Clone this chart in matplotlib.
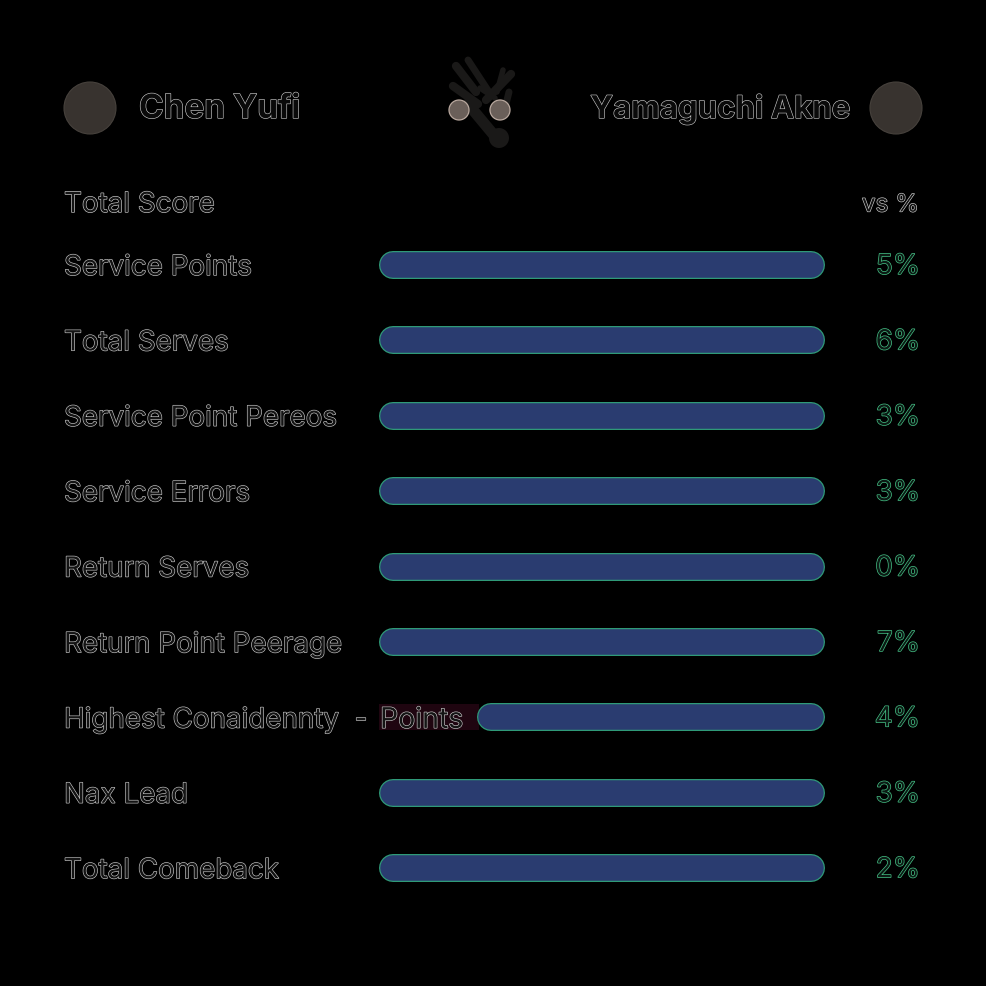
import matplotlib.pyplot as plt
import matplotlib.patheffects as pe
from matplotlib.patches import Circle, Rectangle

# ----------------------------
# Data
# ----------------------------
player_left = "Chen Yufi"
player_right = "Yamaguchi Akne"
header_left = "Total Score"
header_right = "vs %"

labels = ["Service Points", "Total Serves", "Service Point Pereos",
          "Service Errors", "Return Serves", "Return Point Peerage",
          "Highest Conaidennty  -", "Nax Lead", "Total Comeback"]
bar_start = [0, 0, 0, 0, 0, 0, 22, 0, 0]
bar_end = [100, 100, 100, 100, 100, 100, 100, 100, 100]
percents = ["5%", "6%", "3%", "3%", "0%", "7%", "4%", "3%", "2%"]

W = 986.0
plt.rcParams['font.family'] = ['Inter', 'DejaVu Sans']


def hollow(color, width=0.9):
    return [pe.Stroke(linewidth=width, foreground=color), pe.Normal()]


fig = plt.figure(figsize=(9.86, 9.86), dpi=100, facecolor='black')

# ----------------------------
# Overlay in pixel coordinates
# ----------------------------
over = fig.add_axes([0, 0, 1, 1])
over.set_xlim(0, W)
over.set_ylim(W, 0)
over.axis('off')

for cx in [90, 896]:
    over.add_patch(Circle((cx, 108), 26, fc='#38332f', ec='#46413c', lw=0.8))

over.text(139, 109, player_left, fontsize=24, fontweight='bold', color='#0a0a0a',
          va='center', ha='left', path_effects=hollow('#c4c4c4'))
over.text(851, 109, player_right, fontsize=22.5, fontweight='bold', color='#0a0a0a',
          va='center', ha='right', path_effects=hollow('#c4c4c4'))
over.text(64, 205, header_left, fontsize=20, color='#141414', va='center',
          path_effects=hollow('#d0d0d0'))
over.text(919, 205, header_right, fontsize=17.5, color='#141414', va='center',
          ha='right', path_effects=hollow('#d0d0d0'))

# logo
logo = '#1a1918'
for xs, ys, lw in [([498, 468], [140, 104], 8),
                   ([476, 456], [92, 66], 6),
                   ([489, 468], [92, 60], 5),
                   ([486, 511], [100, 74], 6),
                   ([453, 478], [86, 104], 6),
                   ([497, 503], [92, 70], 4),
                   ([509, 503], [92, 116], 5),
                   ([480, 495], [88, 98], 4)]:
    over.plot(xs, ys, color=logo, lw=lw, solid_capstyle='round', zorder=1)
over.add_patch(Circle((499, 138), 10, fc=logo, ec='none', zorder=1))
for cx in [459, 500]:
    over.add_patch(Circle((cx, 110), 10, fc='#6a5f59', ec='#b9a89e', lw=0.9, zorder=2))

# ----------------------------
# Rows
# ----------------------------
row_y = [265 + 75.4 * i for i in range(len(labels))]
for y, lab, pct in zip(row_y, labels, percents):
    over.text(64, y + 3, lab, fontsize=20, color='#141414', va='center',
              path_effects=hollow('#c8c8c8'))
    over.text(920, y + 2, pct, fontsize=20, color='#0c1a14', va='center',
              ha='right', path_effects=hollow('#46c488', 1.0))

# remainder of the split row
over.add_patch(Rectangle((379, row_y[6] - 13), 100, 26, fc='#1f0510', ec='none', zorder=1))
over.text(380, row_y[6] + 3, "Points", fontsize=20.5, color='#141414', va='center',
          zorder=2, path_effects=hollow('#c8c8c8'))

# ----------------------------
# Bars
# ----------------------------
ax = fig.add_axes([379 / W, 1 - 900 / W, 446 / W, 670 / W])
ax.set_xlim(0, 100)
ax.set_ylim(900, 230)
ax.axis('off')
ax.patch.set_alpha(0)

px_x = 100 / 446
px_pt = 72 / 100
cap = 14 * px_x  # round cap sticks out half the line width

for y, s, e in zip(row_y, bar_start, bar_end):
    ax.plot([s + cap, e - cap], [y, y], color='#2f9a78', lw=28 * px_pt,
            solid_capstyle='round', zorder=2)
    ax.plot([s + cap, e - cap], [y, y], color='#2a3c70', lw=25.5 * px_pt,
            solid_capstyle='round', zorder=3)

fig.savefig('out.png', dpi=100, facecolor='black')
